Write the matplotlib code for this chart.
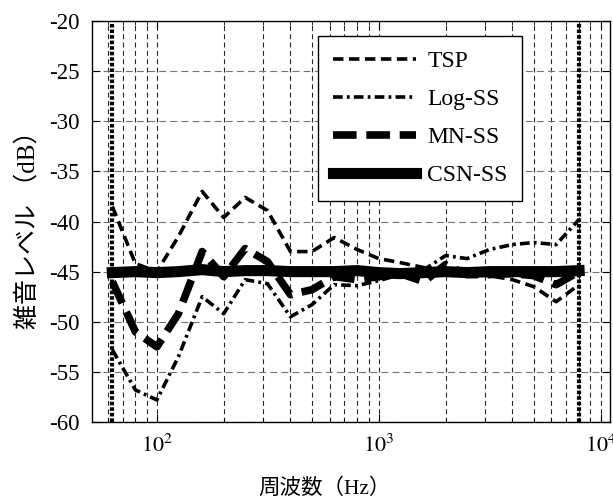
import matplotlib
matplotlib.use('Agg')
import matplotlib.pyplot as plt
from matplotlib.ticker import FixedLocator, LogLocator, NullFormatter, NullLocator

# ---- data ----
freqs = [63, 80, 100, 125, 160, 200, 250, 315, 400, 500, 630, 800,
         1000, 1250, 1600, 2000, 2500, 3150, 4000, 5000, 6300, 8000]
tsp = [-38.5, -44.2, -45.0, -41.5, -37.0, -39.6, -37.6, -38.9, -43.0, -43.0,
       -41.6, -42.8, -43.7, -44.1, -44.6, -45.0, -45.2, -45.4, -45.8, -46.5,
       -48.0, -46.3]
log_ss = [-52.8, -56.8, -57.8, -53.5, -47.5, -49.2, -45.8, -46.2, -49.5, -48.3,
          -46.3, -46.4, -45.9, -45.3, -44.8, -43.4, -43.7, -42.8, -42.3, -42.1,
          -42.3, -39.8]
mn_ss = [-46.0, -51.0, -52.5, -49.2, -43.0, -45.5, -42.7, -44.0, -47.3, -46.8,
         -45.5, -45.8, -45.5, -45.2, -46.0, -44.3, -45.3, -45.3, -45.2, -45.4,
         -46.3, -45.0]
csn_ss = [-45.1, -45.0, -45.1, -45.0, -44.8, -45.0, -44.9, -44.9, -45.0, -45.0,
          -45.0, -44.9, -45.1, -45.2, -45.1, -45.0, -45.1, -45.0, -45.0, -45.0,
          -45.0, -44.9]
series_labels = ['TSP', 'Log-SS', 'MN-SS', 'CSN-SS']
band_edges = [63, 8000]
y_ticks = [-60, -55, -50, -45, -40, -35, -30, -25, -20]
y_tick_labels = ['-60', '-55', '-50', '-45', '-40', '-35', '-30', '-25', '-20']
x_ticks = [100, 1000, 10000]
x_tick_labels = [r'$10^{2}$', r'$10^{3}$', r'$10^{4}$']
x_label = '周波数（Hz）'
y_label = '雑音レベル （dB）'

# ---- style ----
plt.rcParams['font.family'] = ['Liberation Serif', 'Noto Sans CJK JP', 'DejaVu Sans']
plt.rcParams['mathtext.fontset'] = 'stix'
plt.rcParams['axes.unicode_minus'] = False
plt.rcParams['lines.scale_dashes'] = False

W, H = 613, 504
fig = plt.figure(figsize=(W / 100, H / 100), dpi=100)
L, R, T, B = 92, 610, 21, 422
ax = fig.add_axes([L / W, 1 - B / H, (R - L) / W, (B - T) / H])

ax.set_xscale('log')
ax.set_xlim(51, 11025)
ax.set_ylim(-60, -20)

# grid
ax.grid(True, which='both', axis='x', color='0.15', linewidth=0.8,
        linestyle=(0, (3.5, 2.5)))
ax.grid(True, which='major', axis='y', color='0.45', linewidth=0.8,
        linestyle=(0, (5, 3)))
ax.set_axisbelow(True)

# vertical band limits
for f in band_edges:
    ax.axvline(f, color='black', linewidth=3.0, linestyle=(0, (2.6, 1.4)),
               dash_capstyle='butt', zorder=2)

l1, = ax.plot(freqs, tsp, color='black', linewidth=2.6,
              linestyle=(0, (7.5, 4)), label=series_labels[0], zorder=3)
l2, = ax.plot(freqs, log_ss, color='black', linewidth=2.6,
              linestyle=(0, (7, 3, 2, 3)), label=series_labels[1], zorder=3)
l3, = ax.plot(freqs, mn_ss, color='black', linewidth=5.5,
              linestyle=(0, (17, 7)), label=series_labels[2], zorder=3)
l4, = ax.plot(freqs, csn_ss, color='black', linewidth=8.0,
              linestyle='-', label=series_labels[3], zorder=4)

# ticks
ax.xaxis.set_major_locator(FixedLocator(x_ticks))
ax.set_xticklabels(x_tick_labels)
ax.xaxis.set_minor_locator(LogLocator(base=10, subs=range(2, 10), numticks=20))
ax.xaxis.set_minor_formatter(NullFormatter())
ax.set_yticks(y_ticks)
ax.set_yticklabels(y_tick_labels)
ax.yaxis.set_minor_locator(NullLocator())
ax.tick_params(which='both', direction='in', top=True, right=True,
               colors='black')
ax.tick_params(axis='x', labelsize=16)
ax.tick_params(axis='y', labelsize=16.5)
ax.tick_params(which='major', length=6, width=0.8, pad=9)
ax.tick_params(which='minor', length=3, width=0.6)
for s in ax.spines.values():
    s.set_color('black')
    s.set_linewidth(1.0)

# legend
leg = ax.legend(handles=[l1, l2, l3, l4], loc='upper left',
                bbox_to_anchor=((318 - L) / (R - L), (B - 36) / (B - T)),
                borderaxespad=0, fontsize=17, handlelength=3.55,
                handletextpad=0.45, labelspacing=0.7, borderpad=0.62,
                fancybox=False, framealpha=1, edgecolor='black')
leg.get_frame().set_linewidth(1.0)
leg.set_zorder(10)

# axis labels
fig.text(324 / W, 1 - 489 / H, x_label, ha='center', va='center', fontsize=15.5)
fig.text(28 / W, 1 - 224 / H, y_label, ha='center', va='center', fontsize=18,
         rotation=90)

fig.savefig('out.png', dpi=100)
